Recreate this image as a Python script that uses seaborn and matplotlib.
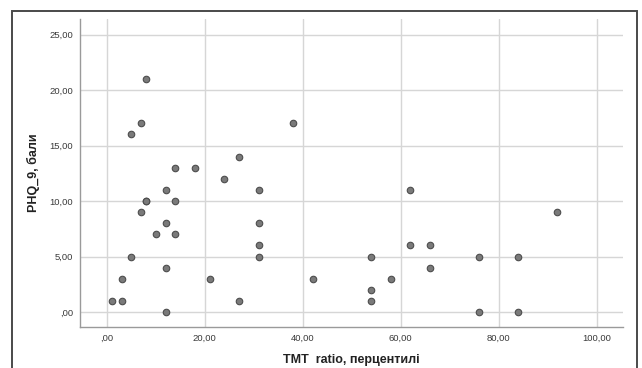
import matplotlib
matplotlib.use("Agg")
import matplotlib.pyplot as plt
import matplotlib.patches as mpatches
import seaborn as sns
import pandas as pd
from matplotlib.ticker import FuncFormatter

# TMT ratio percentiles and PHQ-9 scores
tmt_ratio = [8, 7, 5, 38, 27, 14, 18, 24, 12, 31, 8, 8, 14, 7, 12, 31, 10, 14,
             31, 5, 31, 12, 3, 21, 42, 1, 3, 27, 12,
             62, 92, 62, 66, 54, 76, 84, 66, 58, 54, 54, 76, 84]
phq9 = [21, 17, 16, 17, 14, 13, 13, 12, 11, 11, 10, 10, 10, 9, 8, 8, 7, 7,
        6, 5, 5, 4, 3, 3, 3, 1, 1, 1, 0,
        11, 9, 6, 6, 5, 5, 5, 4, 3, 2, 1, 0, 0]

x_ticks = [0, 20, 40, 60, 80, 100]
y_ticks = [0, 5, 10, 15, 20, 25]

df = pd.DataFrame({"tmt": tmt_ratio, "phq": phq9})

sns.set_theme(style="white")
plt.rcParams["font.family"] = ["Liberation Sans", "DejaVu Sans"]

fig = plt.figure(figsize=(6.42, 3.68), dpi=100)
ax = fig.add_axes([0.1246, 0.1114, 0.8458, 0.837])

sns.scatterplot(data=df, x="tmt", y="phq", ax=ax, s=22,
                color="#7a7a7a", edgecolor="#4d4d4d", linewidth=0.8,
                zorder=3)

ax.set_xlim(-5.5, 105.4)
ax.set_ylim(-1.35, 26.4)
ax.set_xticks(x_ticks)
ax.set_yticks(y_ticks)

def comma_fmt(v, pos):
    s = f"{v:.2f}".replace(".", ",")
    return s[1:] if s.startswith("0,") else s

ax.xaxis.set_major_formatter(FuncFormatter(comma_fmt))
ax.yaxis.set_major_formatter(FuncFormatter(comma_fmt))

ax.grid(True, color="#d6d6d6", linewidth=1.0, zorder=0)
ax.set_axisbelow(True)
for side in ("top", "right"):
    ax.spines[side].set_visible(False)
for side in ("left", "bottom"):
    ax.spines[side].set_color("#9a9a9a")
    ax.spines[side].set_linewidth(1.0)

ax.tick_params(axis="both", length=0, labelsize=6.8, labelcolor="#3a3a3a")
ax.tick_params(axis="x", pad=5)
ax.tick_params(axis="y", pad=5)

ax.set_xlabel("TMT  ratio, перцентилі", fontsize=9, color="#222222",
              fontweight="bold", labelpad=8)
ax.set_ylabel("PHQ_9, бали", fontsize=9, color="#222222",
              fontweight="bold", labelpad=7)

# outer chart frame
frame = mpatches.Rectangle((12 / 642, -0.02), (637 - 12) / 642, 1.02 - 11 / 368,
                           transform=fig.transFigure, fill=False,
                           edgecolor="#4a4a4a", linewidth=1.4, clip_on=False)
fig.patches.append(frame)

fig.savefig("out.png", dpi=100)
